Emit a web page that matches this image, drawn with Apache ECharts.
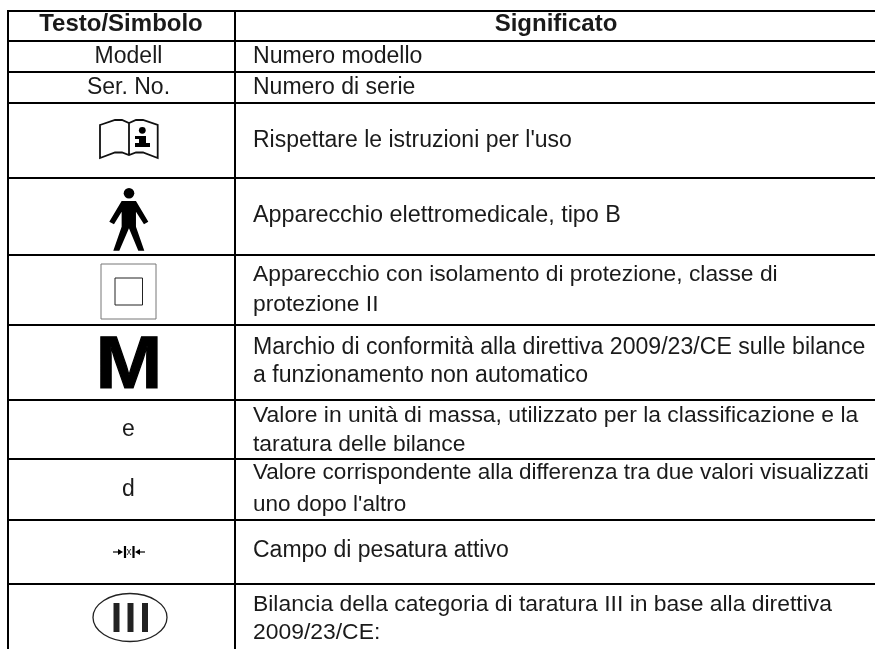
<!DOCTYPE html>
<html><head><meta charset="utf-8">
<script src="https://cdn.jsdelivr.net/npm/echarts@6/dist/echarts.min.js"></script>
<style>html,body{margin:0;background:#fff}#c{width:875px;height:649px}</style>
</head><body><div id="c"></div>
<script>
const headers = ['Testo/Simbolo', 'Significato'];
const symbolCol = ['Modell', 'Ser. No.', '@book', '@person', '@insulation', '@M', 'e', 'd', '@range', '@III'];
const meaningCol = [
  ['Numero modello'],
  ['Numero di serie'],
  ["Rispettare le istruzioni per l'uso"],
  ['Apparecchio elettromedicale, tipo B'],
  ['Apparecchio con isolamento di protezione, classe di', 'protezione II'],
  ['Marchio di conformità alla direttiva 2009/23/CE sulle bilance', 'a funzionamento non automatico'],
  ['Valore in unità di massa, utilizzato per la classificazione e la', 'taratura delle bilance'],
  ['Valore corrispondente alla differenza tra due valori visualizzati', "uno dopo l'altro"],
  ['Campo di pesatura attivo'],
  ['Bilancia della categoria di taratura III in base alla direttiva', '2009/23/CE:']
];
const ruleYs = [11, 41, 72, 103, 178, 255, 325, 400, 459, 520, 584];
const meaningBaselines = [[64], [95], [148], [223], [282, 312], [355, 383], [423, 452], [480, 512], [558], [612, 640]];
const meaningSizes = [[23.1], [23], [23], [23.4], [22.8, 22.8], [23.1, 23.1], [22.9, 22.9], [22.5, 22.5], [23], [22.9, 22.9]];
const symbolBaselines = [64, 95, 0, 0, 0, 0, 437, 497, 0, 0];
const FONT = '"Liberation Sans", Arial, sans-serif';
const TEXT = '#1a1a1a';

function t(api, str, x, baseline, size, bold, align) {
  const p = api.coord([x, baseline - 0.32 * size]);
  return { type: 'text', style: { text: str, x: p[0], y: p[1], fill: TEXT, align: align, verticalAlign: 'middle',
    font: (bold ? 'bold ' : '') + size + 'px ' + FONT } };
}
function box(api, d, x0, y0, x1, y1, style) {
  const a = api.coord([x0, y0]), b = api.coord([x1, y1]);
  return { type: 'path', shape: { pathData: d, layout: 'cover', x: a[0], y: a[1], width: b[0] - a[0], height: b[1] - a[1] }, style: style };
}
function line(api, x0, y0, x1, y1, w, c) {
  const a = api.coord([x0, y0]), b = api.coord([x1, y1]);
  return { type: 'line', shape: { x1: a[0], y1: a[1], x2: b[0], y2: b[1] }, style: { stroke: c || '#000', lineWidth: w } };
}
function rect(api, x0, y0, x1, y1, style) {
  const a = api.coord([x0, y0]), b = api.coord([x1, y1]);
  return { type: 'rect', shape: { x: a[0], y: a[1], width: b[0] - a[0], height: b[1] - a[1] }, style: style };
}
const ink = { fill: '#000' };
const symbols = {
  book(api) {
    const c = api.coord([142.3, 130.3]);
    return [
      box(api, 'M100 125 L115 120 L122 120 L129 123 L136 120 L143 120 L157.7 125 L157.7 158 L143 152.5 L136 152.5 L129 155 L122 152.5 L115 152.5 L100 158 Z M129 123 L129 155', 100, 120, 157.7, 158, { fill: 'none', stroke: '#111', lineWidth: 1.8 }),
      { type: 'circle', shape: { cx: c[0], cy: c[1], r: 3.4 }, style: ink },
      box(api, 'M135 136 L146 136 L146 143 L150 143 L150 147 L135 147 L135 143 L139 143 L139 139 L135 139 Z', 135, 136, 150, 147, ink)
    ];
  },
  person(api) {
    const h = api.coord([129, 193.3]);
    return [
      { type: 'circle', shape: { cx: h[0], cy: h[1], r: 5.3 }, style: ink },
      box(api, 'M365 603 L408 603 L445 665 L432 673 L408 635 L408 680 L433 752 L415 752 L387 685 L358 752 L340 752 L365 680 L365 635 L342 673 L328 665 Z', 109.3, 201, 148.3, 250.7, ink)
    ];
  },
  insulation(api) {
    return [
      rect(api, 101, 264, 156, 319, { fill: 'none', stroke: '#777', lineWidth: 1 }),
      rect(api, 115, 278, 142.5, 305, { fill: 'none', stroke: '#222', lineWidth: 1 })
    ];
  },
  M(api) {
    const e = t(api, 'M', 129, 388, 75, true, 'center');
    const p = api.coord([129, 388]);
    e.style.y += 3;
    e.style.stroke = '#000'; e.style.lineWidth = 1.2; e.style.fill = '#000';
    e.originX = p[0]; e.originY = p[1]; e.scaleX = 1.07;
    return [e];
  },
  range(api) {
    return [
      line(api, 113, 552, 120, 552, 1.2),
      box(api, 'M0 0 L5 3 L0 6 Z', 118, 549, 123, 555, ink),
      line(api, 125, 546, 125, 558, 2.2),
      t(api, 'x', 129, 555, 10, false, 'center'),
      line(api, 133.5, 546, 133.5, 558, 2.2),
      line(api, 138, 552, 145, 552, 1.2),
      box(api, 'M5 0 L0 3 L5 6 Z', 135, 549, 140, 555, ink)
    ];
  },
  III(api) {
    const c = api.coord([130, 617.5]);
    return [
      { type: 'ellipse', shape: { cx: c[0], cy: c[1], rx: 37, ry: 24 }, style: { fill: 'none', stroke: '#222', lineWidth: 1.3 } },
      rect(api, 113.5, 603, 119.5, 632, { fill: '#222' }),
      rect(api, 127.5, 603, 133.5, 632, { fill: '#222' }),
      rect(api, 142, 603, 148, 632, { fill: '#222' })
    ];
  }
};
const rowIdx = ruleYs.map((_, i) => [i]);
const chart = echarts.init(document.getElementById('c'), null, { renderer: 'canvas' });
chart.setOption({
  animation: false,
  backgroundColor: '#fff',
  grid: { left: 0, right: 0, top: 0, bottom: 0 },
  xAxis: { type: 'value', min: 0, max: 875, show: false },
  yAxis: { type: 'value', min: 0, max: 649, inverse: true, show: false },
  series: [{
    type: 'custom',
    coordinateSystem: 'cartesian2d',
    clip: false,
    data: rowIdx,
    renderItem(params, api) {
      const r = api.value(0);
      const kids = [line(api, 7, ruleYs[r], 875, ruleYs[r], 2)];
      if (r === 0) {
        kids.push(t(api, headers[0], 121, 32, 24, true, 'center'));
        kids.push(t(api, headers[1], 556, 32, 24, true, 'center'));
        kids.push(line(api, 8, 10, 8, 649, 2), line(api, 235, 10, 235, 649, 2));
      } else {
        const i = r - 1, s = symbolCol[i];
        if (s[0] === '@') kids.push.apply(kids, symbols[s.slice(1)](api));
        else kids.push(t(api, s, 128.5, symbolBaselines[i], 23, false, 'center'));
        meaningCol[i].forEach((txt, k) => kids.push(t(api, txt, 253, meaningBaselines[i][k], meaningSizes[i][k], false, 'left')));
      }
      return { type: 'group', children: kids };
    }
  }]
});
</script></body></html>
